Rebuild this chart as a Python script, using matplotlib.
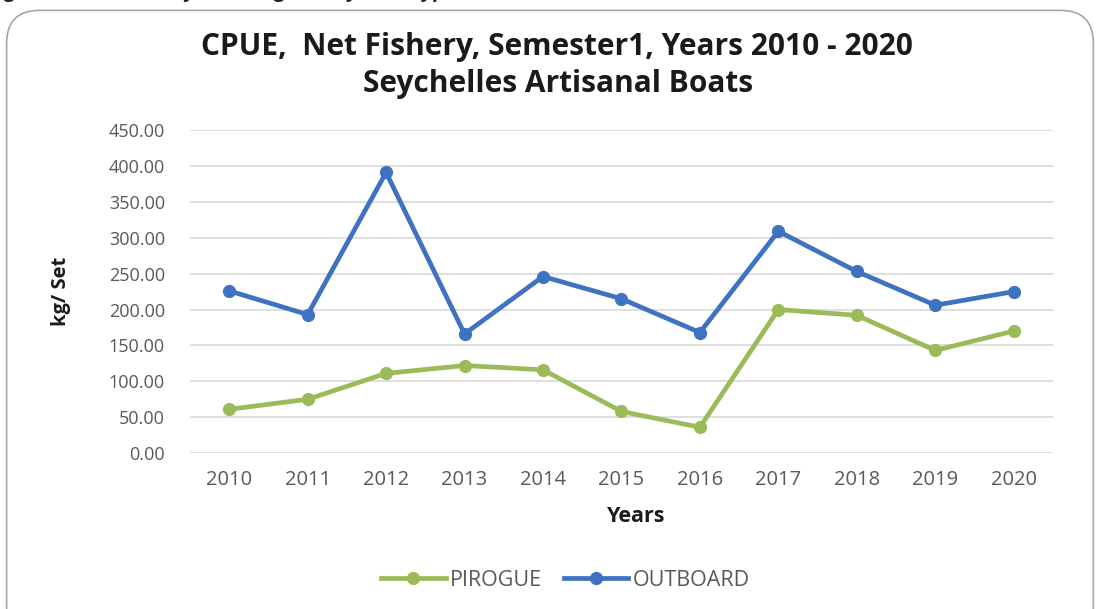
import matplotlib.pyplot as plt
from matplotlib.patches import FancyBboxPatch

# ---------------------------
# Data
# ---------------------------
years = ['2010', '2011', '2012', '2013', '2014', '2015',
         '2016', '2017', '2018', '2019', '2020']
pirogue = [61, 75, 111, 122, 116, 58, 36, 200, 192, 143, 170]
outboard = [226, 193, 391, 166, 246, 215, 168, 309, 253, 206, 225]
y_ticks = [0, 50, 100, 150, 200, 250, 300, 350, 400, 450]

green = '#9bbb59'
blue = '#3f72c0'
grey_text = '#595959'

plt.rcParams['font.family'] = ['Open Sans', 'DejaVu Sans']

fig = plt.figure(figsize=(11, 6.09), dpi=100)

# caption line of the page, mostly cut off at the top edge
fig.text(-0.012, 1 + 2.5 / 609, 'Figure 11: Net fishery CPUE (kg/set) by boat type, Semester 1, Years 2010 - 2020',
         ha='left', va='baseline', fontsize=14, fontweight='bold', color='#222222')

# rounded chart frame
frame = FancyBboxPatch((0.006, -0.05), 0.988, 1.033, transform=fig.transFigure,
                       boxstyle='round,pad=0,rounding_size=0.03',
                       facecolor='white', edgecolor='#a6a6a6', linewidth=1.2,
                       mutation_aspect=1100 / 609, zorder=-10)
fig.patches.append(frame)

ax = fig.add_axes([0.1727, 0.256, 0.7845, 0.5304])
ax.set_facecolor('none')
x = list(range(len(years)))

ax.plot(x, pirogue, color=green, lw=3.4, marker='o', ms=8.5, label='PIROGUE')
ax.plot(x, outboard, color=blue, lw=3.4, marker='o', ms=8.5, label='OUTBOARD')

ax.set_xlim(-0.5, len(years) - 0.5)
ax.set_ylim(0, 450)
ax.set_yticks(y_ticks)
ax.set_yticklabels([f'{v:.2f}' for v in y_ticks])
ax.set_xticks(x)
ax.set_xticklabels(years)
ax.tick_params(axis='both', length=0, colors=grey_text)
ax.tick_params(axis='y', pad=18, labelsize=13)
ax.tick_params(axis='x', pad=12, labelsize=14.5)
ax.grid(axis='y', color='#d9d9d9', lw=1.2)
ax.set_axisbelow(True)
for s in ax.spines.values():
    s.set_visible(False)

ax.set_xlabel('Years', fontsize=15.5, fontweight='bold', color='#1a1a1a')
ax.xaxis.set_label_coords(0.517, -0.165)
ax.set_ylabel('kg/ Set', fontsize=14.5, fontweight='bold', color='#1a1a1a')
ax.yaxis.set_label_coords(-0.138, 0.5)

fig.text(0.506, 0.923, 'CPUE,  Net Fishery, Semester1, Years 2010 - 2020',
         ha='center', va='center', fontsize=21.5, fontweight='bold', color='#1a1a1a')
fig.text(0.507, 0.862, 'Seychelles Artisanal Boats',
         ha='center', va='center', fontsize=21.5, fontweight='bold', color='#1a1a1a')

fig.legend(loc='center', bbox_to_anchor=(0.514, 0.047), ncol=2, frameon=False,
           fontsize=15.5, labelcolor=grey_text, handlelength=3.0, columnspacing=1.0,
           handletextpad=0.2)

fig.savefig('out.png', dpi=100)
